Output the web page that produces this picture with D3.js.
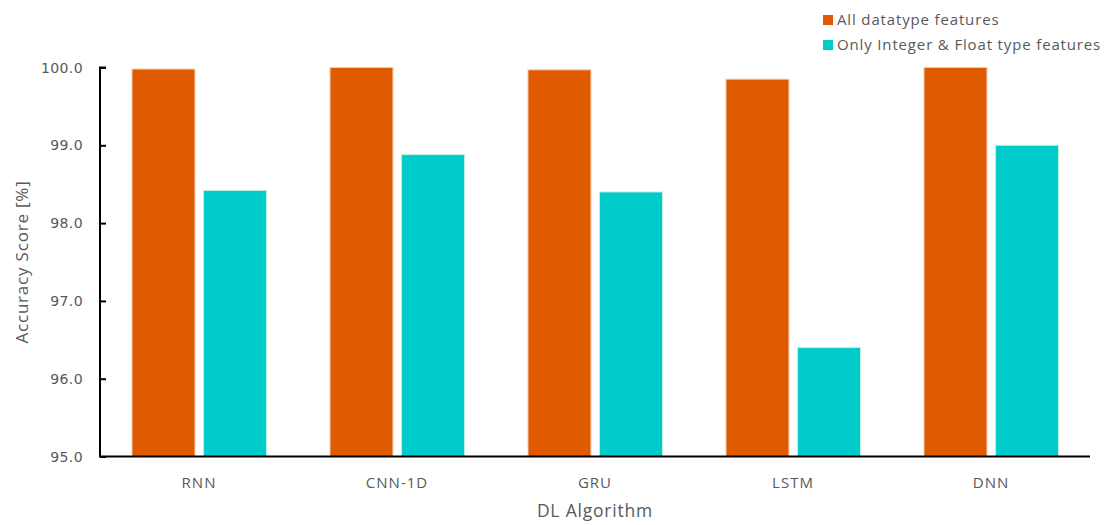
<!DOCTYPE html>
<html>
<head>
<meta charset="utf-8">
<script src="https://cdn.jsdelivr.net/npm/d3@7"></script>
<style>
  html, body { margin: 0; padding: 0; background: #fff; }
  svg { display: block; }
</style>
</head>
<body>
<svg id="chart" width="1109" height="525"></svg>
<script>
const categories = ["RNN", "CNN-1D", "GRU", "LSTM", "DNN"];
const seriesNames = ["All datatype features", "Only Integer & Float type features"];
const allFeatures = [99.98, 100.0, 99.97, 99.85, 100.0];
const intFloatFeatures = [98.42, 98.88, 98.40, 96.40, 99.00];
const yTicks = [95, 96, 97, 98, 99, 100];

(function () {
const colors = ["#E05A00", "#00CBCB"];
const strokes = ["#F4C9AE", "#BFEFD8"];
const FONT = "Open Sans, Lato, sans-serif";

const svg = d3.select("#chart");
const mLeft = 100, mRight = 1090, mTop = 67.5, mBottom = 456.5;

const x0 = d3.scaleBand().domain(categories).range([mLeft, mRight]).padding(0);
const x1 = d3.scaleBand().domain(seriesNames).range([32, x0.bandwidth() - 31.5]).paddingInner(0.12).paddingOuter(0);
const y = d3.scaleLinear().domain([95, 100]).range([mBottom, mTop]);

const rows = categories.map((c, i) => ({ cat: c, vals: [allFeatures[i], intFloatFeatures[i]] }));

// bars
const g = svg.append("g");
rows.forEach(r => {
  r.vals.forEach((v, j) => {
    g.append("rect")
      .attr("x", x0(r.cat) + x1(seriesNames[j]))
      .attr("y", y(v))
      .attr("width", x1.bandwidth())
      .attr("height", y(95) - y(v))
      .attr("fill", colors[j])
      .attr("stroke", strokes[j])
      .attr("stroke-width", 1);
  });
});

// y axis (ticks inside, pointing right)
const yAxis = d3.axisRight(y).tickValues(yTicks).tickSize(6).tickFormat("");
const yg = svg.append("g").attr("transform", `translate(${mLeft},0)`).call(yAxis);
yg.select(".domain").attr("stroke", "#000").attr("stroke-width", 2).attr("d", `M6,${mTop}H0V${mBottom}`);
yg.selectAll(".tick line").attr("stroke", "#000").attr("stroke-width", 2);

// y tick labels
svg.append("g").selectAll("text").data(yTicks).join("text")
  .attr("x", 83)
  .attr("y", d => y(d))
  .attr("dy", "0.36em")
  .attr("text-anchor", "end")
  .attr("font-family", "DejaVu Sans, Verdana, sans-serif")
  .attr("font-size", 14)
  .attr("letter-spacing", 0.4)
  .attr("fill", "#595959")
  .text(d => d3.format(".1f")(d));

// x axis line
svg.append("line")
  .attr("x1", mLeft - 1).attr("x2", mRight)
  .attr("y1", mBottom).attr("y2", mBottom)
  .attr("stroke", "#000").attr("stroke-width", 2);

// x labels
const xAxis = d3.axisBottom(x0).tickSize(0);
const xg = svg.append("g").attr("transform", `translate(0,${mBottom})`).call(xAxis);
xg.select(".domain").remove();
xg.selectAll(".tick text")
  .attr("y", 31.5)
  .attr("dy", 0)
  .attr("font-family", FONT)
  .attr("font-size", 15)
  .attr("letter-spacing", 1)
  .attr("fill", "#595959");

// axis titles
svg.append("text")
  .attr("x", (mLeft + mRight) / 2)
  .attr("y", 517)
  .attr("text-anchor", "middle")
  .attr("font-family", FONT)
  .attr("font-size", 17.5)
  .attr("letter-spacing", 0.8)
  .attr("fill", "#595959")
  .text("DL Algorithm");

svg.append("text")
  .attr("transform", `translate(28,${(mTop + mBottom) / 2}) rotate(-90)`)
  .attr("text-anchor", "middle")
  .attr("font-family", FONT)
  .attr("font-size", 17)
  .attr("letter-spacing", 0.8)
  .attr("fill", "#595959")
  .text("Accuracy Score [%]");

// legend
const lg = svg.append("g");
seriesNames.forEach((s, i) => {
  const yy = 20 + i * 25;
  lg.append("rect")
    .attr("x", 823).attr("y", yy - 5)
    .attr("width", 10).attr("height", 10)
    .attr("fill", colors[i]);
  lg.append("text")
    .attr("x", 837).attr("y", yy)
    .attr("dy", "0.35em")
    .attr("font-family", FONT)
    .attr("font-size", 15)
    .attr("letter-spacing", 0.85)
    .attr("fill", "#595959")
    .text(s);
});
})();
</script>
</body>
</html>
